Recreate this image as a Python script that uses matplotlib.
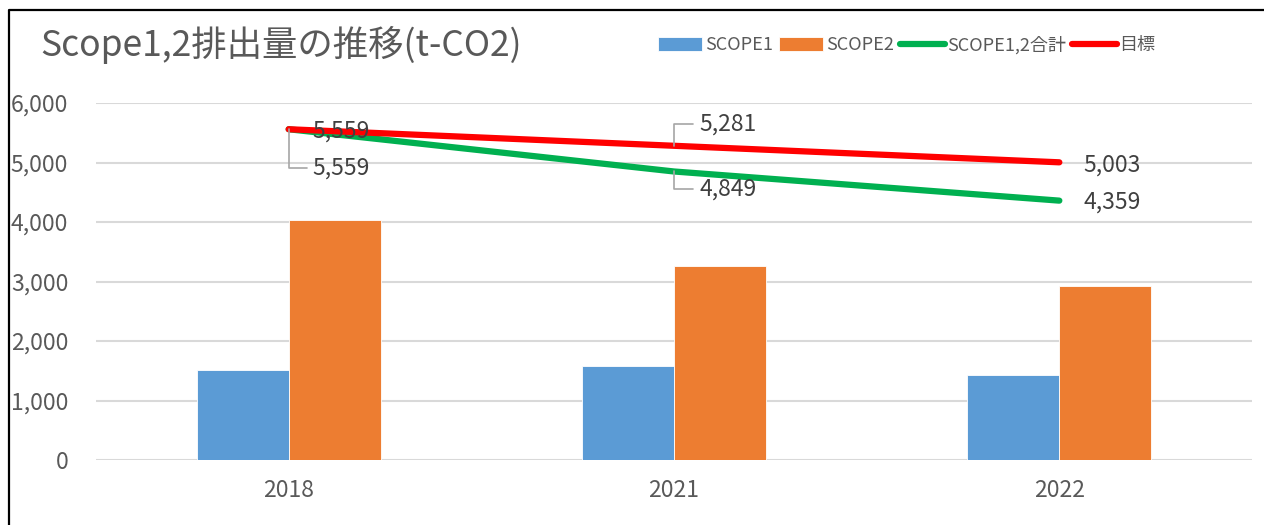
import matplotlib
matplotlib.use('Agg')
import matplotlib.pyplot as plt
from matplotlib.ticker import FuncFormatter
from matplotlib.lines import Line2D
import numpy as np

plt.rcParams['font.family'] = ['Noto Sans CJK JP', 'DejaVu Sans']

# データ
years = ['2018', '2021', '2022']
scope1 = [1520, 1585, 1433]
scope2 = [4039, 3264, 2926]
total = [5559, 4849, 4359]
target = [5559, 5281, 5003]

text_color = '#595959'
x = np.arange(len(years))
bar_w = 0.239

fig = plt.figure(figsize=(12.64, 5.25), dpi=100)
ax = fig.add_axes([96 / 1264, 1 - 460 / 525, 1156 / 1264, 357 / 525])

b1 = ax.bar(x - bar_w / 2, scope1, bar_w, color='#5b9bd5', edgecolor='white', linewidth=0.6, label='SCOPE1', zorder=2)
b2 = ax.bar(x + bar_w / 2, scope2, bar_w, color='#ed7d31', edgecolor='white', linewidth=0.6, label='SCOPE2', zorder=2)
l1, = ax.plot(x, total, color='#00b050', lw=4.5, solid_capstyle='round', label='SCOPE1,2合計', zorder=3)
l2, = ax.plot(x, target, color='#ff0000', lw=4.5, solid_capstyle='round', label='目標', zorder=4)

ax.set_xlim(-0.5, 2.5)
ax.set_ylim(0, 6000)
ax.set_yticks(range(0, 6001, 1000))
ax.yaxis.set_major_formatter(FuncFormatter(lambda v, p: f'{v:,.0f}'))
ax.set_xticks(x)
ax.set_xticklabels(years)
ax.grid(axis='y', color='#d9d9d9', lw=1.5, zorder=0)
ax.set_axisbelow(True)
for s in ax.spines.values():
    s.set_visible(False)
ax.tick_params(axis='both', length=0, labelsize=16.5, colors=text_color)
ax.tick_params(axis='y', pad=20)
ax.tick_params(axis='x', pad=14)

# データラベル
lead = dict(arrowstyle='-', color='#a6a6a6', lw=1.2,
            connectionstyle='angle,angleA=0,angleB=90,rad=0', shrinkA=2, shrinkB=0)
labels = [
    (0, target[0], (24, -2), False),
    (0, total[0], (24, -39), True),
    (1, target[1], (25, 22), True),
    (1, total[1], (25, -18), True),
    (2, target[2], (24, -3), False),
    (2, total[2], (24, -1), False),
]
for xi, v, off, has_lead in labels:
    ax.annotate(f'{v:,}', (xi, v), xytext=off, textcoords='offset pixels',
                ha='left', va='center', fontsize=16.5, color='#404040',
                arrowprops=lead if has_lead else None, zorder=5)

fig.text(40 / 1264, 1 - 45 / 525, 'Scope1,2排出量の推移(t-CO2)', fontsize=25.5,
         color=text_color, ha='left', va='center')

fig.legend([b1, b2, l1, l2], ['SCOPE1', 'SCOPE2', 'SCOPE1,2合計', '目標'],
           loc='center left', bbox_to_anchor=(658 / 1264, 1 - 45 / 525), ncol=4,
           frameon=False, fontsize=13, labelcolor=text_color, handlelength=2.45,
           handleheight=0.75, handletextpad=0.15, columnspacing=0.35,
           borderpad=0, borderaxespad=0)

# 枠線
fig.add_artist(Line2D([9 / 1264, 9 / 1264, 1], [0, 1 - 10 / 525, 1 - 10 / 525],
                      color='black', lw=1.6, transform=fig.transFigure))

plt.savefig('out.png', dpi=100)
